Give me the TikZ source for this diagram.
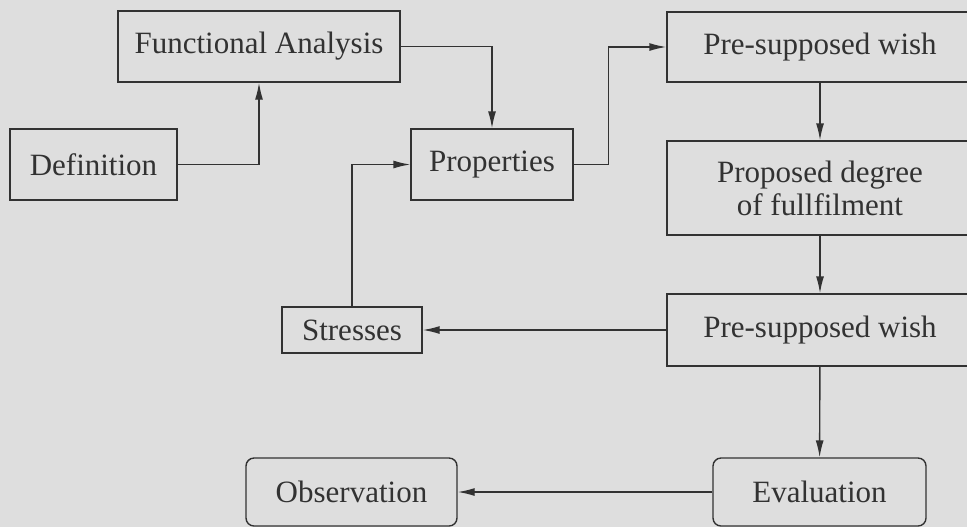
\documentclass[tikz,border=0pt]{standalone}
\usepackage{fontspec}
\setmainfont{Liberation Serif}
\usepackage{xcolor}
\usetikzlibrary{arrows.meta,positioning}
\definecolor{paper}{RGB}{222,222,222}
\definecolor{ink}{RGB}{50,50,50}

\begin{document}
\begin{tikzpicture}[x=0.5pt,y=-0.5pt,>={Latex[length=8.5pt,width=4pt]},
    line width=0.7pt,
    stage/.style={draw=ink,rectangle,inner sep=0pt,text=ink,align=center,
      font=\fontsize{15.5}{16.5}\selectfont},
    roundstage/.style={stage,rounded corners=4pt},
    link/.style={->,draw=ink}]

    \useasboundingbox (0,0) rectangle (967,527);
    \fill[paper] (0,0) rectangle (967,527);
    \clip (0,0) rectangle (967,527);

    % left column
    \node[stage, minimum width=141pt, minimum height=35.5pt] (fa) at (259,46.5) {Functional Analysis};
    \node[stage, minimum width=83.5pt, minimum height=35.5pt] (def) at (93.5,164.5) {Definition};
    \node[stage, minimum width=81pt, minimum height=35.5pt] (prop) at (492,164.5) {Properties};
    \node[stage, minimum width=70pt, minimum height=23pt] (stress) at (352,330) {Stresses};

    % right column
    \node[stage, minimum width=153pt, minimum height=35pt] (wish1) at (820,47) {Pre-supposed wish};
    \node[stage, minimum width=153pt, minimum height=47pt] (degree) at (820,188) {Proposed degree\\of fullfilment};
    \node[stage, minimum width=153pt, minimum height=36pt] (wish2) at (820,330) {Pre-supposed wish};

    % bottom row
    \node[roundstage, minimum width=106.5pt, minimum height=34pt] (eval) at (819.5,492) {Evaluation};
    \node[roundstage, minimum width=105.5pt, minimum height=34pt] (obs) at (351.5,492) {Observation};

    \draw[link] (def.east) -| (fa.south);
    \draw[link] (fa.east) -| (prop.north);
    \draw[link] (stress.north) |- (prop.west);
    \draw[link] (prop.east) -- ++(35,0) |- (wish1.west);
    \draw[link] (wish1) -- (degree);
    \draw[link] (degree) -- (wish2);
    \draw[link] (wish2) -- (stress);
    \draw[link] (wish2) -- (eval);
    \draw[link] (eval) -- (obs);
  \end{tikzpicture}
\end{document}
